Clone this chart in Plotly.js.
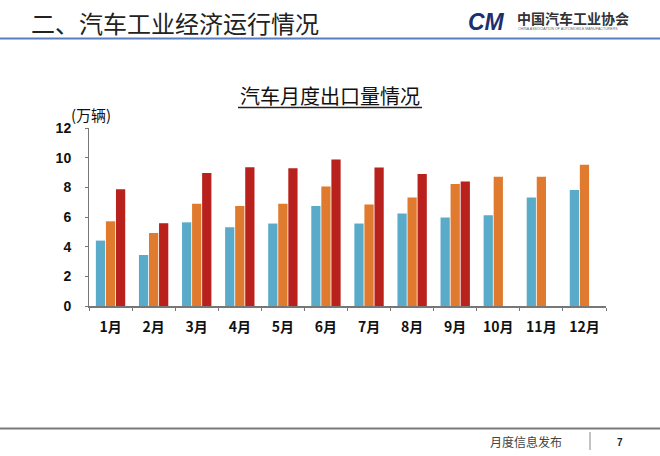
<!DOCTYPE html>
<html>
<head>
<meta charset="utf-8">
<script src="https://cdn.plot.ly/plotly-3.0.1.min.js"></script>
<style>
html,body{margin:0;padding:0;background:#fff;}
#chart{width:660px;height:456px;}
</style>
</head>
<body>
<div id="chart"></div>
<script>
const months = ["1月","2月","3月","4月","5月","6月","7月","8月","9月","10月","11月","12月"];
const seriesA = [4.41, 3.44, 5.64, 5.31, 5.56, 6.74, 5.56, 6.23, 5.96, 6.12, 7.31, 7.82];
const seriesB = [5.71, 4.92, 6.90, 6.74, 6.90, 8.05, 6.85, 7.31, 8.23, 8.72, 8.72, 9.53];
const seriesC = [7.87, 5.58, 8.97, 9.35, 9.28, 9.87, 9.33, 8.90, 8.39, null, null, null];
const yTicks = [0, 2, 4, 6, 8, 10, 12];

const W = 660, H = 456;
const L = 89, R = 606, T = 128, B = 306;
const px = x => (x - L) / (R - L);
const py = y => (B - y) / (B - T);

const cjk = '"Noto Sans CJK SC", "Liberation Sans", sans-serif';
const arial = '"Liberation Sans", Arial, sans-serif';

const traces = [
  {type:'bar', x: months, y: seriesA, marker:{color:'#5aabca'}, name:'A'},
  {type:'bar', x: months, y: seriesB, marker:{color:'#df7a2e'}, name:'B'},
  {type:'bar', x: months, y: seriesC, marker:{color:'#b8211c'}, name:'C'}
];

const layout = {
  width: W, height: H,
  margin: {l: L, r: W - R, t: T, b: H - B, pad: 0},
  paper_bgcolor: '#fff', plot_bgcolor: '#fff',
  showlegend: false,
  barmode: 'group', bargap: 0.3, bargroupgap: 0.08,
  xaxis: {
    type: 'category', showgrid: false, zeroline: false,
    showline: true, linecolor: '#777', linewidth: 1.5,
    ticks: 'outside', tickson: 'boundaries', ticklen: 3, tickcolor: '#777',
    tickfont: {family: cjk, size: 14, color: '#111', weight: 'bold'},
    ticklabelstandoff: 8
  },
  yaxis: {
    range: [0, 12], tickvals: yTicks, showgrid: false, zeroline: false,
    showline: true, linecolor: '#777', linewidth: 1,
    ticks: 'outside', ticklen: 3, tickcolor: '#777',
    tickfont: {family: arial, size: 14, color: '#111', weight: 'bold'},
    ticklabelstandoff: 11
  },
  shapes: [
    {type:'line', xref:'paper', yref:'paper', x0: px(0), x1: px(660), y0: py(38.5), y1: py(38.5), line:{color:'#5b7cc0', width:2}},
    {type:'line', xref:'paper', yref:'paper', x0: px(0), x1: px(660), y0: py(428.5), y1: py(428.5), line:{color:'#7a7a7a', width:2}},
    {type:'line', xref:'paper', yref:'paper', x0: px(590), x1: px(590), y0: py(432), y1: py(450), line:{color:'#888', width:1}},
    {type:'line', xref:'paper', yref:'paper', x0: px(238), x1: px(422), y0: py(107.5), y1: py(107.5), line:{color:'#222', width:1.5}}
  ],
  annotations: [
    {xref:'paper', yref:'paper', x: px(29), y: py(22), xanchor:'left', yanchor:'middle', showarrow:false,
     text:'二、汽车工业经济运行情况', font:{family: cjk, size: 24, color:'#222'}},
    {xref:'paper', yref:'paper', x: px(330), y: py(95), xanchor:'center', yanchor:'middle', showarrow:false,
     text:'汽车月度出口量情况', font:{family: cjk, size: 20, color:'#111'}},
    {xref:'paper', yref:'paper', x: px(69), y: py(115), xanchor:'left', yanchor:'middle', showarrow:false,
     text:'(万辆)', font:{family: cjk, size: 15, color:'#111'}},
    {xref:'paper', yref:'paper', x: px(466), y: py(22), xanchor:'left', yanchor:'middle', showarrow:false,
     text:'<b><i>CM</i></b>', font:{family: arial, size: 23, color:'#1d2f6f'}},
    {xref:'paper', yref:'paper', x: px(515), y: py(18), xanchor:'left', yanchor:'middle', showarrow:false,
     text:'<b>中国汽车工业协会</b>', font:{family: cjk, size: 14, color:'#333'}},
    {xref:'paper', yref:'paper', x: px(516), y: py(29), xanchor:'left', yanchor:'middle', showarrow:false,
     text:'CHINA ASSOCIATION OF AUTOMOBILE MANUFACTURERS', font:{family: arial, size: 3.6, color:'#666'}},
    {xref:'paper', yref:'paper', x: px(526), y: py(441), xanchor:'center', yanchor:'middle', showarrow:false,
     text:'月度信息发布', font:{family: cjk, size: 12, color:'#444'}},
    {xref:'paper', yref:'paper', x: px(620), y: py(442), xanchor:'center', yanchor:'middle', showarrow:false,
     text:'<b>7</b>', font:{family: arial, size: 10, color:'#222'}}
  ]
};

Plotly.newPlot('chart', traces, layout, {displayModeBar: false, staticPlot: true});
</script>
</body>
</html>
